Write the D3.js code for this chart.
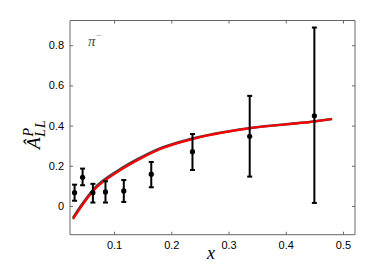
<!DOCTYPE html>
<html><head><meta charset="utf-8">
<script src="https://cdn.jsdelivr.net/npm/d3@7"></script>
<style>body{margin:0;background:#fff}svg{display:block}</style>
</head><body><div id="chart"></div>
<script>
// Data points
const xData = [0.031, 0.045, 0.063, 0.085, 0.117, 0.165, 0.237, 0.337, 0.450];
const yData = [0.066, 0.143, 0.066, 0.070, 0.075, 0.158, 0.270, 0.347, 0.449];
const yHigh = [0.106, 0.186, 0.110, 0.123, 0.129, 0.219, 0.358, 0.548, 0.888];
const yLow  = [0.026, 0.103, 0.017, 0.017, 0.020, 0.093, 0.179, 0.146, 0.015];
// Theory curve (red) and its dark band
const curveX = [0.0283, 0.0428, 0.0663, 0.107, 0.136, 0.177, 0.236, 0.338, 0.448, 0.481];
const curveY = [-0.065, -0.003, 0.083, 0.171, 0.220, 0.279, 0.332, 0.387, 0.420, 0.433];
const bandY  = [-0.060, 0.003, 0.089, 0.176, 0.225, 0.283, 0.335, 0.388, 0.420, 0.433];
const xTicks = [0.1, 0.2, 0.3, 0.4, 0.5];
const yTicks = [0, 0.2, 0.4, 0.6, 0.8];

const W = 392, H = 277;
const m = {left: 70, top: 20.5, right: 355, bottom: 234.7};
const svg = d3.select("#chart").append("svg").attr("width", W).attr("height", H);
const x = d3.scaleLinear().domain([0.023, 0.521]).range([m.left, m.right]);
const y = d3.scaleLinear().domain([-0.143, 0.923]).range([m.bottom, m.top]);

const frameColor = "#666";
const gx = svg.append("g").attr("transform", `translate(0,${m.bottom})`)
  .call(d3.axisBottom(x).tickValues(xTicks).tickSize(-3).tickPadding(7).tickFormat(d3.format(".1f")));
const gxt = svg.append("g").attr("transform", `translate(0,${m.top})`)
  .call(d3.axisTop(x).tickValues(xTicks).tickSize(-3).tickFormat(""));
const gy = svg.append("g").attr("transform", `translate(${m.left},0)`)
  .call(d3.axisLeft(y).tickValues(yTicks).tickSize(-3).tickPadding(6).tickFormat(d => d === 0 ? "0" : d3.format(".1f")(d)));
const gyr = svg.append("g").attr("transform", `translate(${m.right},0)`)
  .call(d3.axisRight(y).tickValues(yTicks).tickSize(-3).tickFormat(""));
[gx, gxt, gy, gyr].forEach(g => {
  g.select(".domain").attr("stroke", frameColor).attr("stroke-width", 1);
  g.selectAll(".tick line").attr("stroke", frameColor);
  g.selectAll("text").attr("font-family", "Liberation Sans, Arial, sans-serif").attr("font-size", 11).attr("fill", "#000");
});
[gx, gxt].forEach(g => g.select(".domain").attr("d", `M${m.left},0H${m.right}`));
[gy, gyr].forEach(g => g.select(".domain").attr("d", `M0,${m.top}V${m.bottom}`));

// Band and curve
const pts = curveX.map((d, i) => ({x: d, y: curveY[i], b: bandY[i]}));
const lineB = d3.line().x(d => x(d.x)).y(d => y(d.b)).curve(d3.curveMonotoneX);
const lineR = d3.line().x(d => x(d.x)).y(d => y(d.y)).curve(d3.curveMonotoneX);
svg.append("path").datum(pts).attr("d", lineB).attr("fill", "none").attr("stroke", "#444").attr("stroke-width", 2.6);
svg.append("path").datum(pts).attr("d", lineR).attr("fill", "none").attr("stroke", "#f00").attr("stroke-width", 2.2);

// Error bars
const data = xData.map((d, i) => ({x: d, y: yData[i], hi: yHigh[i], lo: yLow[i]}));
const eb = svg.append("g");
data.forEach(d => {
  const cx = x(d.x);
  eb.append("line").attr("x1", cx).attr("x2", cx).attr("y1", y(d.hi)).attr("y2", y(d.lo)).attr("stroke", "#000").attr("stroke-width", 2);
  [d.hi, d.lo].forEach(v => eb.append("line").attr("x1", cx - 2.5).attr("x2", cx + 2.5).attr("y1", y(v)).attr("y2", y(v)).attr("stroke", "#000").attr("stroke-width", 2));
  eb.append("circle").attr("cx", cx).attr("cy", y(d.y)).attr("r", 2.6).attr("fill", "#000");
});

// Labels
svg.append("text").attr("x", 211).attr("y", 259).attr("text-anchor", "middle")
  .attr("font-family", "Liberation Serif, DejaVu Serif, serif").attr("font-style", "italic").attr("font-size", 18).text("x");
const yl = svg.append("text").attr("transform", "translate(40,149) rotate(-90)")
  .attr("font-family", "Liberation Serif, DejaVu Serif, serif").attr("font-style", "italic").attr("font-size", 19);
yl.append("tspan").text("Â");
yl.append("tspan").attr("font-size", 14).attr("dy", -7).attr("dx", 1).text("P");
yl.append("tspan").attr("font-size", 14).attr("dy", 12).attr("dx", -9).attr("letter-spacing", 1).text("LL");
const pl = svg.append("text").attr("x", 88).attr("y", 46)
  .attr("font-family", "Liberation Serif, DejaVu Serif, serif").attr("font-style", "italic").attr("font-size", 15).attr("fill", "#444");
pl.append("tspan").text("π");
pl.append("tspan").attr("font-size", 11).attr("dy", -7).attr("font-style", "normal").attr("fill", "#999").text("−");
</script>
</body></html>
